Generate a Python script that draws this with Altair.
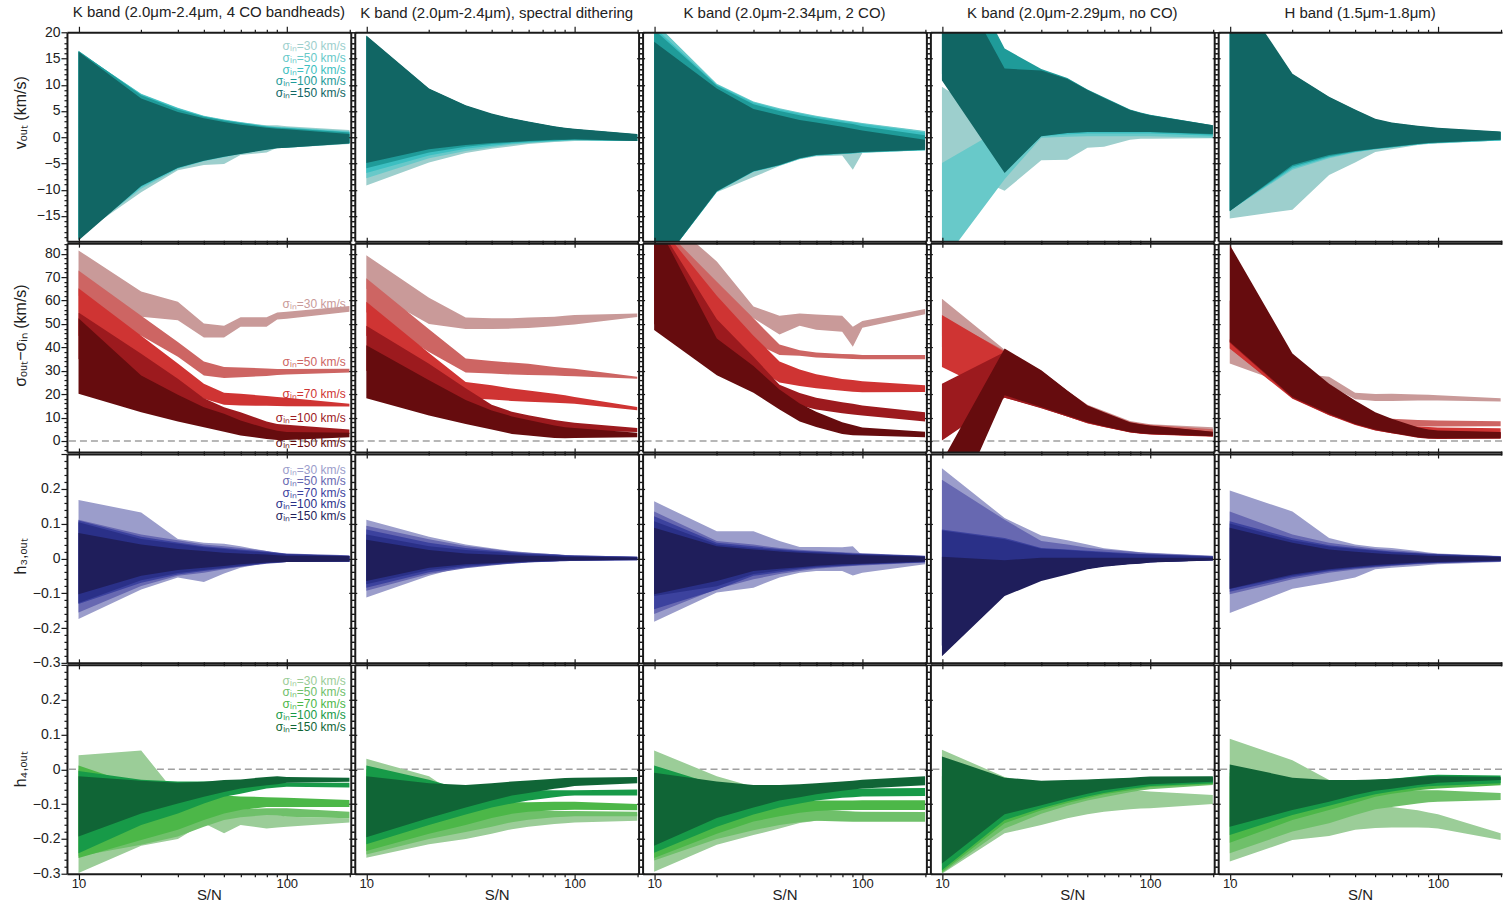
import altair as alt
import pandas as pd

SN = [10, 20, 30, 40, 50, 60, 80, 90, 100, 200]
SIGMA_IN = [30, 50, 70, 100, 150]
PANEL_TITLES = ["K band (2.0μm-2.4μm, 4 CO bandheads)", "K band (2.0μm-2.4μm), spectral dithering",
                "K band (2.0μm-2.34μm, 2 CO)", "K band (2.0μm-2.29μm, no CO)", "H band (1.5μm-1.8μm)"]
ROW_TITLES = ["vₒᵤₜ (km/s)", "σₒᵤₜ−σᵢₙ (km/s)", "h₃,ₒᵤₜ", "h₄,ₒᵤₜ"]
ROW_TITLE_Y = [80, 92, 102, 104]
TEAL = ["#9dcfcd", "#68c9c9", "#3dbfc1", "#1f9b99", "#116664"]
RED = ["#c99a99", "#cd6563", "#cf3433", "#9c1a1e", "#660c0e"]
BLUE = ["#9b9dcb", "#6768b1", "#3c429e", "#2a3088", "#1f1e5b"]
GREEN = ["#9bcd98", "#6fc06a", "#4cb748", "#179a48", "#106536"]
X_TICKS = [10, 20, 30, 40, 50, 60, 70, 80, 90, 100, 200]

# ---------------- row 1: v_out (rows of each block: sigma_in 30, 50, 70, 100, 150)
V_C1_LO = [[-18.8, -10.5, -6.3, -5.3, -5.1, -3.4, -2.9, -2.0, -2.0, -1.3],
           [-19.0, -9.8, -6.0, -4.6, -3.8, -3.2, -2.4, -2.1, -2.0, -1.2],
           [-19.3, -9.5, -5.9, -4.5, -3.7, -3.1, -2.3, -2.0, -1.9, -1.1],
           [-19.5, -9.2, -5.8, -4.4, -3.6, -3.1, -2.3, -2.0, -1.9, -1.1],
           [-19.7, -9.3, -5.8, -4.5, -3.7, -3.2, -2.4, -2.1, -2.0, -1.2]]
V_C1_HI = [[16.0, 8.0, 5.4, 4.0, 3.3, 2.8, 2.3, 2.3, 2.1, 1.4],
           [16.3, 8.3, 5.6, 4.1, 3.4, 2.9, 2.2, 2.0, 1.9, 1.2],
           [16.4, 8.2, 5.5, 4.0, 3.3, 2.8, 2.1, 1.9, 1.8, 1.0],
           [16.5, 8.0, 5.3, 3.9, 3.2, 2.7, 2.0, 1.8, 1.7, 0.9],
           [16.3, 7.4, 4.8, 3.6, 2.9, 2.4, 1.8, 1.6, 1.5, 0.6]]
V_C2_LO = [[-9.2, -4.8, -3.0, -2.2, -1.7, -1.3, -0.9, -0.8, -0.7, -0.7],
           [-7.8, -4.0, -2.6, -1.9, -1.4, -1.1, -0.8, -0.7, -0.6, -0.7],
           [-6.8, -3.5, -2.2, -1.6, -1.2, -1.0, -0.7, -0.6, -0.5, -0.7],
           [-5.9, -2.9, -1.8, -1.3, -1.0, -0.8, -0.6, -0.5, -0.5, -0.7],
           [-4.9, -2.3, -1.5, -1.1, -0.9, -0.7, -0.5, -0.5, -0.4, -0.7]]
V_C2_HI = [[19.0, 9.0, 5.9, 4.3, 3.4, 2.8, 2.0, 1.7, 1.5, 0.5],
           [19.1, 9.1, 5.9, 4.4, 3.5, 2.9, 2.0, 1.7, 1.5, 0.5],
           [19.2, 9.2, 6.0, 4.4, 3.5, 2.9, 2.0, 1.7, 1.5, 0.5],
           [19.3, 9.2, 6.0, 4.4, 3.5, 2.9, 2.0, 1.7, 1.5, 0.5],
           [19.4, 9.3, 6.1, 4.5, 3.6, 3.0, 2.1, 1.8, 1.6, 0.6]]
V_C3_LO = [[-26, -10.5, -7.6, -5.5, -4.2, -3.6, -3.5, -6.2, -3.0, -2.5],
           [-26, -10.4, -6.6, -5.4, -4.1, -3.5, -3.2, -3.1, -2.9, -2.5],
           [-26, -10.4, -6.6, -5.4, -4.1, -3.5, -3.2, -3.1, -2.9, -2.5],
           [-26, -10.3, -6.5, -5.3, -4.0, -3.4, -3.1, -3.0, -2.8, -2.4],
           [-26, -10.3, -6.5, -5.3, -4.0, -3.4, -3.1, -3.0, -2.8, -2.4]]
V_C3_HI = [[22, 10.0, 6.7, 5.4, 4.6, 4.0, 3.2, 2.9, 2.6, 1.1],
           [22, 10.2, 6.8, 5.5, 4.7, 4.1, 3.3, 3.0, 2.7, 1.2],
           [21, 10.0, 6.6, 5.3, 4.5, 3.9, 3.1, 2.8, 2.5, 0.9],
           [20.5, 9.8, 6.3, 5.0, 4.2, 3.6, 2.8, 2.5, 2.1, 0.4],
           [18.2, 9.3, 5.4, 4.2, 3.3, 2.8, 2.0, 1.6, 1.3, -0.5]]
V_C4_LO = [[-4.9, -10.2, -4.4, -4.3, -2.0, -1.8, -0.5, -0.3, -0.3, -0.2],
           [-24, -8, -0.1, 0.1, 0.2, 0.2, 0.2, 0.2, 0.2, -0.1],
           [11, -6, 0.2, 0.5, 0.7, 0.7, 0.7, 0.7, 0.7, 0.3],
           [12, -6.5, 0.3, 0.8, 1.0, 1.0, 1.0, 1.0, 1.0, 0.5],
           [10.8, -6.8, 0.2, 0.8, 1.0, 1.0, 1.0, 1.0, 1.0, 0.6]]
V_C4_HI = [[9.6, 2.0, 0.5, 0.8, 1.0, 1.0, 1.0, 1.0, 1.0, 0.5],
           [-4.9, 2.0, 0.8, 0.9, 1.0, 1.0, 1.0, 1.0, 1.0, 0.6],
           [30, 14, 12.8, 11.2, 9.0, 7.5, 5.2, 4.6, 4.2, 2.2],
           [40, 16.9, 13.0, 11.3, 9.1, 7.6, 5.3, 4.7, 4.3, 2.3],
           [35, 13.1, 12.7, 11.1, 9.0, 7.5, 5.2, 4.6, 4.2, 2.3]]
V_C5_LO = [[-15.5, -13.8, -7.2, -4.8, -2.8, -2.3, -1.5, -1.3, -1.2, -0.6],
           [-14.0, -6.2, -4.0, -2.9, -2.3, -2.0, -1.4, -1.2, -1.1, -0.6],
           [-14.0, -5.9, -3.8, -2.8, -2.3, -1.9, -1.4, -1.2, -1.1, -0.6],
           [-14.0, -5.6, -3.6, -2.7, -2.2, -1.9, -1.3, -1.1, -1.0, -0.5],
           [-14.1, -5.3, -3.4, -2.6, -2.2, -1.8, -1.3, -1.1, -1.0, -0.5]]
V_C5_HI = [[27, 11.5, 7.3, 5.0, 3.2, 2.5, 1.9, 1.7, 1.5, 0.9],
           [28, 11.7, 7.4, 5.0, 3.2, 2.6, 2.0, 1.8, 1.6, 1.0],
           [28, 11.8, 7.5, 5.1, 3.3, 2.6, 2.0, 1.8, 1.6, 1.0],
           [29, 12.0, 7.6, 5.2, 3.4, 2.7, 2.1, 1.9, 1.7, 1.0],
           [30, 12.1, 7.7, 5.3, 3.5, 2.8, 2.2, 2.0, 1.8, 1.1]]

# ---------------- row 2: sigma_out - sigma_in
S_C1_LO = [[62, 53.1, 51.6, 44.2, 44.2, 48.8, 48.8, 51.9, 52.2, 55.2],
           [55, 45, 36, 28.0, 26.9, 27.2, 27.8, 28.2, 28.4, 29.2],
           [45, 32, 25, 18, 15.5, 15.2, 15.0, 14.9, 14.8, 14.7],
           [35, 22, 15, 10, 7.5, 5.5, 3.5, 3.2, 3.0, 3.0],
           [20.2, 12.3, 8.3, 5.9, 4.0, 2.3, 0.9, 0.4, 0.4, 1.6]]
S_C1_HI = [[81.4, 63.8, 59.5, 50.2, 49.2, 52.8, 52.8, 54.9, 55.2, 57.6],
           [72.8, 53.5, 42.3, 34.0, 31.6, 31.4, 31.0, 30.8, 30.8, 30.9],
           [65.2, 45.0, 33.1, 24.5, 20.6, 20.2, 19.2, 18.8, 18.5, 15.9],
           [54.9, 37.3, 26.6, 18.3, 14.4, 12.3, 8.3, 7.3, 6.9, 4.9],
           [52.4, 28.0, 19.7, 14.4, 11.6, 8.7, 5.4, 4.4, 3.8, 3.5]]
S_C2_LO = [[65, 50, 47.8, 47.8, 48.0, 48.3, 49.0, 49.4, 49.8, 53.0],
           [55, 38, 29.2, 28.8, 28.4, 28.2, 28.0, 27.8, 27.6, 26.6],
           [45, 28, 18.3, 17.7, 17.1, 16.8, 16.3, 16.1, 15.9, 13.1],
           [30, 18, 10, 6, 5, 4.8, 4.6, 4.5, 4.4, 3.8],
           [18.3, 10.9, 7.3, 4.9, 3.0, 2.3, 1.3, 1.2, 1.3, 1.6]]
S_C2_HI = [[79.3, 61.2, 52.7, 52.4, 52.4, 52.7, 53.1, 53.5, 53.8, 54.5],
           [69.5, 47.7, 35.2, 34.2, 33.5, 33.0, 31.6, 31.2, 30.9, 27.4],
           [59.5, 37.6, 25.2, 23.8, 22.4, 21.6, 20.2, 19.5, 18.8, 14.5],
           [49.2, 33, 22.5, 15.5, 12.5, 11, 9, 8.3, 7.8, 5.5],
           [40.9, 25.9, 17.5, 13.0, 10.5, 9.0, 6.6, 5.9, 5.5, 3.5]]
S_C3_LO = [[80, 62, 52.4, 45.5, 49.2, 47.5, 46.7, 40.2, 48.4, 54.1],
           [75, 50, 42, 36.7, 36.4, 35.7, 35.2, 35.0, 34.9, 34.9],
           [60, 42, 32, 25, 23.5, 22.5, 21.5, 21.0, 20.8, 20.9],
           [50, 32, 22, 17.5, 15.2, 13.5, 11.8, 11.3, 10.9, 8.3],
           [47.4, 28.1, 20.6, 13.5, 8.3, 6.0, 3.0, 2.5, 2.3, 1.6]]
S_C3_HI = [[100, 76.7, 57.4, 53.5, 54.5, 54.0, 53.5, 48.8, 51.2, 56.4],
           [95, 68, 52.4, 41.2, 38.8, 37.8, 37.2, 37.0, 36.7, 36.7],
           [95, 62, 45, 34, 30.5, 28.5, 26.5, 26.0, 25.5, 23.8],
           [95, 52, 36, 24, 20.5, 18.5, 16.5, 15.9, 15.2, 12.3],
           [95, 43.8, 32, 22, 16, 12.5, 8.0, 6.8, 5.8, 4.0]]
S_C4_LO = [[45, 18.8, 14.0, 10.5, 7.5, 6.0, 3.8, 3.4, 3.1, 2.5],
           [40, 19, 14.3, 10.7, 7.8, 6.2, 3.8, 3.3, 3.0, 2.2],
           [31.6, 18.5, 14.2, 10.5, 7.6, 6.0, 3.6, 3.1, 2.8, 1.8],
           [0.2, 18.5, 14, 10.5, 7.7, 6.1, 3.7, 3.2, 2.9, 2.0],
           [-41, 19.5, 14.5, 10.9, 8.0, 6.3, 3.8, 3.3, 3.0, 2.0]]
S_C4_HI = [[60.7, 39, 30, 21.5, 15.5, 12.8, 8.5, 7.8, 7.2, 5.9],
           [53, 38.5, 29.8, 21.3, 15.2, 12.5, 8.2, 7.5, 6.9, 5.0],
           [53.8, 38, 29.8, 21.2, 15.0, 12.1, 7.8, 7.1, 6.5, 3.9],
           [24.5, 38, 29.5, 21, 14.8, 12.0, 7.7, 7.0, 6.4, 3.8],
           [-8.7, 39.5, 30.2, 21.6, 15.2, 12.3, 8.0, 7.2, 6.6, 4.0]]
S_C5_LO = [[33.1, 23.5, 23.8, 17.8, 17.1, 17.1, 17.3, 17.3, 17.3, 16.9],
           [39.5, 18.5, 11, 7.5, 6.5, 6.3, 6.2, 6.2, 6.2, 6.3],
           [39.5, 18.0, 11.0, 6.8, 4.5, 3.3, 2.0, 1.8, 1.7, 1.5],
           [42, 18.3, 11.2, 7.0, 4.6, 3.3, 1.4, 1.0, 0.9, 1.0],
           [42.4, 18.8, 11.6, 7.3, 4.9, 3.5, 1.6, 1.2, 1.2, 1.2]]
S_C5_HI = [[39.5, 29, 27.4, 20.6, 20.1, 20.2, 19.9, 19.7, 19.5, 18.3],
           [43, 30, 20, 13, 10.5, 9.5, 9.0, 8.9, 8.8, 8.4],
           [43.5, 25, 16, 11, 8.5, 7.5, 6.2, 6.0, 5.8, 5.4],
           [60, 34, 22, 15, 10.5, 8, 5.5, 4.7, 4.3, 3.6],
           [83.8, 37.4, 24.5, 17.3, 12.3, 9.5, 5.9, 4.9, 4.5, 3.8]]

# ---------------- row 3: h3
H3_C1_LO = [[-0.174, -0.089, -0.055, -0.068, -0.043, -0.027, -0.012, -0.010, -0.008, -0.010],
            [-0.155, -0.079, -0.050, -0.041, -0.031, -0.024, -0.015, -0.013, -0.010, -0.010],
            [-0.131, -0.070, -0.046, -0.036, -0.029, -0.023, -0.014, -0.012, -0.010, -0.009],
            [-0.128, -0.063, -0.042, -0.033, -0.027, -0.021, -0.013, -0.011, -0.010, -0.009],
            [-0.103, -0.050, -0.033, -0.027, -0.022, -0.017, -0.012, -0.011, -0.010, -0.009]]
H3_C1_HI = [[0.168, 0.132, 0.056, 0.045, 0.042, 0.035, 0.021, 0.015, 0.011, 0.007],
            [0.111, 0.069, 0.052, 0.040, 0.035, 0.030, 0.021, 0.017, 0.014, 0.009],
            [0.109, 0.062, 0.046, 0.035, 0.030, 0.026, 0.019, 0.016, 0.013, 0.007],
            [0.104, 0.056, 0.042, 0.032, 0.027, 0.023, 0.017, 0.014, 0.012, 0.007],
            [0.073, 0.040, 0.027, 0.021, 0.016, 0.014, 0.011, 0.009, 0.008, 0.007]]
H3_C2_LO = [[-0.112, -0.050, -0.022, -0.016, -0.012, -0.010, -0.008, -0.007, -0.006, -0.005],
            [-0.093, -0.045, -0.028, -0.020, -0.015, -0.012, -0.009, -0.008, -0.007, -0.005],
            [-0.084, -0.040, -0.025, -0.018, -0.014, -0.011, -0.008, -0.007, -0.007, -0.005],
            [-0.074, -0.033, -0.021, -0.016, -0.012, -0.010, -0.008, -0.007, -0.006, -0.004],
            [-0.065, -0.027, -0.017, -0.014, -0.011, -0.009, -0.007, -0.006, -0.006, -0.004]]
H3_C2_HI = [[0.111, 0.062, 0.040, 0.029, 0.021, 0.017, 0.012, 0.010, 0.009, 0.005],
            [0.094, 0.055, 0.036, 0.027, 0.020, 0.016, 0.012, 0.010, 0.009, 0.005],
            [0.083, 0.045, 0.030, 0.023, 0.018, 0.014, 0.011, 0.009, 0.008, 0.005],
            [0.069, 0.035, 0.024, 0.019, 0.015, 0.012, 0.009, 0.008, 0.007, 0.004],
            [0.054, 0.024, 0.014, 0.011, 0.009, 0.008, 0.006, 0.005, 0.005, 0.003]]
H3_C3_LO = [[-0.182, -0.098, -0.084, -0.055, -0.041, -0.036, -0.036, -0.049, -0.041, -0.017],
            [-0.160, -0.088, -0.060, -0.045, -0.036, -0.030, -0.024, -0.022, -0.020, -0.012],
            [-0.146, -0.090, -0.050, -0.040, -0.032, -0.027, -0.022, -0.020, -0.018, -0.011],
            [-0.108, -0.080, -0.045, -0.035, -0.028, -0.024, -0.020, -0.018, -0.017, -0.010],
            [-0.103, -0.065, -0.036, -0.030, -0.025, -0.021, -0.017, -0.016, -0.015, -0.009]]
H3_C3_HI = [[0.164, 0.078, 0.078, 0.050, 0.033, 0.033, 0.032, 0.035, 0.008, 0.007],
            [0.135, 0.050, 0.040, 0.030, 0.025, 0.022, 0.018, 0.016, 0.015, 0.008],
            [0.121, 0.045, 0.035, 0.027, 0.022, 0.020, 0.016, 0.014, 0.013, 0.007],
            [0.107, 0.040, 0.030, 0.024, 0.020, 0.018, 0.014, 0.013, 0.012, 0.006],
            [0.088, 0.035, 0.026, 0.020, 0.016, 0.014, 0.011, 0.010, 0.009, 0.005]]
H3_C4_LO = [[-0.250, -0.100, -0.060, -0.040, -0.030, -0.022, -0.015, -0.013, -0.011, -0.005],
            [-0.250, -0.100, -0.060, -0.040, -0.030, -0.022, -0.015, -0.013, -0.011, -0.005],
            [-0.250, -0.100, -0.060, -0.040, -0.030, -0.022, -0.015, -0.013, -0.011, -0.005],
            [-0.250, -0.100, -0.060, -0.040, -0.030, -0.022, -0.015, -0.013, -0.011, -0.005],
            [-0.281, -0.108, -0.065, -0.046, -0.031, -0.024, -0.017, -0.015, -0.012, -0.006]]
H3_C4_HI = [[0.259, 0.116, 0.066, 0.052, 0.040, 0.029, 0.021, 0.018, 0.016, 0.008],
            [0.226, 0.111, 0.050, 0.040, 0.031, 0.026, 0.020, 0.017, 0.015, 0.007],
            [0.083, 0.059, 0.030, 0.026, 0.022, 0.019, 0.015, 0.013, 0.012, 0.006],
            [0.080, 0.055, 0.028, 0.024, 0.020, 0.017, 0.013, 0.012, 0.011, 0.005],
            [0.005, -0.005, 0.002, 0.002, 0.002, 0.002, 0.002, 0.002, 0.002, 0.002]]
H3_C5_LO = [[-0.157, -0.087, -0.069, -0.055, -0.031, -0.027, -0.022, -0.019, -0.017, -0.010],
            [-0.103, -0.060, -0.041, -0.032, -0.026, -0.022, -0.017, -0.015, -0.014, -0.009],
            [-0.096, -0.054, -0.037, -0.029, -0.024, -0.020, -0.015, -0.014, -0.013, -0.008],
            [-0.088, -0.050, -0.034, -0.027, -0.022, -0.019, -0.014, -0.013, -0.012, -0.008],
            [-0.087, -0.046, -0.031, -0.024, -0.019, -0.016, -0.012, -0.011, -0.010, -0.006]]
H3_C5_HI = [[0.195, 0.135, 0.059, 0.040, 0.033, 0.030, 0.021, 0.017, 0.014, 0.007],
            [0.135, 0.069, 0.045, 0.035, 0.028, 0.024, 0.018, 0.015, 0.013, 0.006],
            [0.107, 0.058, 0.038, 0.030, 0.024, 0.020, 0.015, 0.013, 0.012, 0.006],
            [0.100, 0.052, 0.034, 0.027, 0.022, 0.018, 0.014, 0.012, 0.011, 0.005],
            [0.088, 0.045, 0.026, 0.019, 0.015, 0.012, 0.009, 0.008, 0.007, 0.004]]

# ---------------- row 4: h4
H4_C1_LO = [[-0.298, -0.220, -0.200, -0.155, -0.184, -0.160, -0.170, -0.167, -0.165, -0.153],
            [-0.250, -0.217, -0.193, -0.165, -0.146, -0.138, -0.131, -0.132, -0.136, -0.141],
            [-0.255, -0.203, -0.174, -0.146, -0.127, -0.117, -0.108, -0.108, -0.108, -0.108],
            [-0.241, -0.160, -0.127, -0.098, -0.079, -0.070, -0.055, -0.052, -0.050, -0.052],
            [-0.193, -0.127, -0.098, -0.079, -0.065, -0.055, -0.046, -0.043, -0.039, -0.036]]
H4_C1_HI = [[0.040, 0.054, -0.077, -0.120, -0.125, -0.128, -0.130, -0.130, -0.136, -0.141],
            [0.000, -0.100, -0.110, -0.115, -0.115, -0.115, -0.112, -0.112, -0.112, -0.122],
            [0.011, -0.050, -0.060, -0.070, -0.075, -0.078, -0.080, -0.081, -0.082, -0.088],
            [-0.005, -0.030, -0.035, -0.035, -0.035, -0.035, -0.035, -0.036, -0.038, -0.039],
            [-0.020, -0.033, -0.039, -0.036, -0.031, -0.029, -0.022, -0.020, -0.022, -0.024]]
H4_C2_LO = [[-0.254, -0.215, -0.200, -0.185, -0.172, -0.165, -0.157, -0.155, -0.153, -0.148],
            [-0.245, -0.200, -0.180, -0.165, -0.152, -0.145, -0.138, -0.136, -0.135, -0.135],
            [-0.235, -0.185, -0.160, -0.140, -0.128, -0.122, -0.118, -0.117, -0.116, -0.118],
            [-0.215, -0.160, -0.130, -0.110, -0.098, -0.090, -0.080, -0.077, -0.075, -0.075],
            [-0.195, -0.140, -0.110, -0.090, -0.075, -0.068, -0.056, -0.052, -0.048, -0.040]]
H4_C2_HI = [[0.030, -0.020, -0.090, -0.100, -0.110, -0.115, -0.120, -0.122, -0.125, -0.128],
            [-0.010, -0.080, -0.110, -0.115, -0.118, -0.120, -0.120, -0.120, -0.120, -0.122],
            [0.000, -0.050, -0.100, -0.095, -0.095, -0.095, -0.093, -0.093, -0.093, -0.100],
            [0.011, -0.030, -0.060, -0.060, -0.060, -0.060, -0.060, -0.060, -0.060, -0.058],
            [-0.020, -0.040, -0.045, -0.040, -0.035, -0.032, -0.027, -0.025, -0.024, -0.022]]
H4_C3_LO = [[-0.294, -0.217, -0.189, -0.170, -0.154, -0.148, -0.140, -0.138, -0.136, -0.146],
            [-0.262, -0.200, -0.175, -0.160, -0.152, -0.148, -0.150, -0.151, -0.151, -0.151],
            [-0.255, -0.185, -0.150, -0.135, -0.125, -0.120, -0.118, -0.117, -0.117, -0.117],
            [-0.240, -0.165, -0.130, -0.110, -0.098, -0.090, -0.082, -0.080, -0.078, -0.077],
            [-0.220, -0.140, -0.110, -0.090, -0.080, -0.072, -0.062, -0.058, -0.055, -0.046]]
H4_C3_HI = [[0.054, -0.020, -0.050, -0.090, -0.110, -0.115, -0.120, -0.122, -0.125, -0.128],
            [0.000, -0.070, -0.100, -0.110, -0.115, -0.118, -0.120, -0.121, -0.122, -0.123],
            [0.005, -0.060, -0.085, -0.090, -0.090, -0.090, -0.090, -0.090, -0.089, -0.089],
            [0.011, -0.045, -0.060, -0.060, -0.060, -0.060, -0.058, -0.056, -0.055, -0.054],
            [-0.010, -0.035, -0.045, -0.045, -0.043, -0.040, -0.035, -0.033, -0.030, -0.020]]
H4_C4_LO = [[-0.300, -0.184, -0.160, -0.141, -0.129, -0.122, -0.115, -0.113, -0.112, -0.100],
            [-0.298, -0.170, -0.128, -0.105, -0.090, -0.080, -0.066, -0.061, -0.057, -0.045],
            [-0.295, -0.155, -0.118, -0.097, -0.083, -0.072, -0.060, -0.055, -0.051, -0.042],
            [-0.290, -0.146, -0.112, -0.092, -0.078, -0.068, -0.056, -0.052, -0.048, -0.040],
            [-0.271, -0.129, -0.103, -0.084, -0.070, -0.060, -0.050, -0.046, -0.043, -0.036]]
H4_C4_HI = [[0.056, -0.022, -0.045, -0.050, -0.055, -0.058, -0.060, -0.062, -0.064, -0.074],
            [-0.030, -0.040, -0.040, -0.037, -0.035, -0.033, -0.030, -0.028, -0.027, -0.026],
            [-0.020, -0.035, -0.038, -0.035, -0.033, -0.031, -0.028, -0.026, -0.025, -0.024],
            [0.000, -0.030, -0.035, -0.033, -0.031, -0.029, -0.026, -0.024, -0.023, -0.022],
            [0.037, -0.024, -0.033, -0.031, -0.029, -0.027, -0.024, -0.022, -0.021, -0.020]]
H4_C5_LO = [[-0.265, -0.203, -0.192, -0.174, -0.169, -0.167, -0.167, -0.168, -0.170, -0.203],
            [-0.241, -0.179, -0.155, -0.131, -0.115, -0.108, -0.098, -0.095, -0.093, -0.088],
            [-0.211, -0.146, -0.117, -0.096, -0.079, -0.070, -0.060, -0.057, -0.055, -0.046],
            [-0.189, -0.131, -0.105, -0.085, -0.072, -0.064, -0.052, -0.049, -0.047, -0.040],
            [-0.165, -0.117, -0.093, -0.074, -0.062, -0.056, -0.045, -0.042, -0.039, -0.031]]
H4_C5_HI = [[0.088, 0.026, -0.031, -0.060, -0.100, -0.108, -0.118, -0.124, -0.129, -0.184],
            [-0.020, -0.060, -0.065, -0.060, -0.060, -0.060, -0.060, -0.060, -0.060, -0.068],
            [-0.010, -0.040, -0.045, -0.042, -0.038, -0.035, -0.030, -0.028, -0.026, -0.025],
            [0.000, -0.030, -0.035, -0.033, -0.030, -0.027, -0.020, -0.017, -0.016, -0.018],
            [0.014, -0.024, -0.031, -0.031, -0.029, -0.027, -0.022, -0.020, -0.020, -0.022]]

# legend label positions (S/N, value) in first column
LEGEND_SN = 192
LEG_V_Y = [17.3, 15.1, 12.9, 10.7, 8.5]
LEG_S_Y = [58.4, 33.9, 20.2, 9.9, -0.9]
LEG_H_Y = [0.254, 0.221, 0.188, 0.155, 0.122]

H_TICKS = [0.0 if abs(round(-0.3 + 0.02 * i, 2)) < 1e-9 else round(-0.3 + 0.02 * i, 2) for i in range(31)]
ROWS = [
    dict(lo=[V_C1_LO, V_C2_LO, V_C3_LO, V_C4_LO, V_C5_LO], hi=[V_C1_HI, V_C2_HI, V_C3_HI, V_C4_HI, V_C5_HI],
         colors=TEAL, domain=[-19.8, 20], ticks=list(range(-20, 21)), major="datum.value % 5 == 0",
         show="datum.value % 5 == 0 && datum.value > -20", fmt="d", zero=False, leg=LEG_V_Y),
    dict(lo=[S_C1_LO, S_C2_LO, S_C3_LO, S_C4_LO, S_C5_LO], hi=[S_C1_HI, S_C2_HI, S_C3_HI, S_C4_HI, S_C5_HI],
         colors=RED, domain=[-4.7, 84.5], ticks=list(range(-4, 86, 2)), major="datum.value % 10 == 0",
         show="datum.value % 10 == 0 && datum.value >= 0", fmt="d", zero=True, leg=LEG_S_Y),
    dict(lo=[H3_C1_LO, H3_C2_LO, H3_C3_LO, H3_C4_LO, H3_C5_LO], hi=[H3_C1_HI, H3_C2_HI, H3_C3_HI, H3_C4_HI, H3_C5_HI],
         colors=BLUE, domain=[-0.3, 0.3], ticks=H_TICKS,
         major="abs(datum.value*10 - round(datum.value*10)) < 0.001",
         show="abs(datum.value*10 - round(datum.value*10)) < 0.001 && datum.value < 0.25", fmt=".1~f", zero=False, leg=LEG_H_Y),
    dict(lo=[H4_C1_LO, H4_C2_LO, H4_C3_LO, H4_C4_LO, H4_C5_LO], hi=[H4_C1_HI, H4_C2_HI, H4_C3_HI, H4_C4_HI, H4_C5_HI],
         colors=GREEN, domain=[-0.3, 0.3], ticks=H_TICKS,
         major="abs(datum.value*10 - round(datum.value*10)) < 0.001",
         show="abs(datum.value*10 - round(datum.value*10)) < 0.001 && datum.value < 0.25", fmt=".1~f", zero=True, leg=LEG_H_Y),
]

W, H = 284, 209
INK = "#1a1a1a"
X_MAJOR = "datum.value == 10 || datum.value == 100"


def y_axis(row, r, orient, labels):
    kw = dict(orient=orient, values=row["ticks"], format=row["fmt"], labels=labels,
              labelExpr="(" + row["show"] + ") ? datum.label : ''",
              tickSize={"condition": {"test": row["major"], "value": 6}, "value": 3},
              tickColor=INK, tickWidth=1.2, domain=True, domainColor=INK, domainWidth=2,
              grid=False, zindex=1, labelOverlap=False, labelFontSize=14, labelColor="#222",
              labelPadding=1)
    if labels:
        kw.update(title=ROW_TITLES[r], titleFontSize=16, titleFontWeight="normal", titleColor="#222",
                  titleX=-38, titleY=ROW_TITLE_Y[r])
    else:
        kw.update(title=None)
    return alt.Axis(**kw)


def x_axis(orient, labels):
    kw = dict(orient=orient, values=X_TICKS, format="d", labels=labels,
              labelExpr="(" + X_MAJOR + ") ? datum.label : ''",
              tickSize={"condition": {"test": X_MAJOR, "value": 6}, "value": 3},
              tickColor=INK, tickWidth=1.2, domain=True, domainColor=INK, domainWidth=2,
              grid=False, zindex=1, labelOverlap=False, labelFontSize=13, labelColor="#222",
              labelPadding=-2, labelFlush=False)
    if labels:
        kw.update(title="S/N", titleFontSize=15, titleFontWeight="normal", titleColor="#222", titlePadding=-3)
    else:
        kw.update(title=None)
    return alt.Axis(**kw)


def panel(r, c):
    row = ROWS[r]
    xs = alt.Scale(type="log", domain=[8.8, 203], nice=False)
    ys = alt.Scale(domain=row["domain"], nice=False, zero=False)
    layers = []
    if row["zero"]:
        layers.append(alt.Chart(pd.DataFrame({"val": [0.0]})).mark_rule(
            color="#a0a0a0", strokeDash=[7, 4], strokeWidth=1.5).encode(
            y=alt.Y("val:Q", scale=ys, axis=None)))
    for k, s in enumerate(SIGMA_IN):
        df = pd.DataFrame({"sn": SN, "lo": row["lo"][c][k], "hi": row["hi"][c][k]})
        layers.append(alt.Chart(df).mark_area(color=row["colors"][k], clip=True, opacity=1).encode(
            x=alt.X("sn:Q", scale=xs, axis=None),
            y=alt.Y("lo:Q", scale=ys, axis=None),
            y2="hi:Q"))
    if c == 0:
        ldf = pd.DataFrame({"sn": [LEGEND_SN] * 5, "val": row["leg"],
                            "txt": [f"σᵢₙ={s} km/s" for s in SIGMA_IN], "k": list(range(5))})
        for k in range(5):
            layers.append(alt.Chart(ldf.iloc[[k]]).mark_text(
                align="right", baseline="middle", fontSize=12, color=row["colors"][k]).encode(
                x=alt.X("sn:Q", scale=xs, axis=None),
                y=alt.Y("val:Q", scale=ys, axis=None),
                text="txt:N"))
    dummy = pd.DataFrame({"sn": [10.0], "val": [0.0]})
    layers.append(alt.Chart(dummy).mark_point(opacity=0).encode(
        x=alt.X("sn:Q", scale=xs, axis=x_axis("bottom", r == 3)),
        y=alt.Y("val:Q", scale=ys, axis=y_axis(row, r, "left", c == 0))))
    layers.append(alt.Chart(dummy).mark_point(opacity=0).encode(
        x=alt.X("sn:Q", scale=xs, axis=x_axis("top", False)),
        y=alt.Y("val:Q", scale=ys, axis=(y_axis(row, r, "right", False) if c < 4 else None))))
    ch = alt.layer(*layers).resolve_axis(x="independent", y="independent").properties(width=W, height=H)
    if r == 0:
        ch = ch.properties(title=alt.TitleParams(PANEL_TITLES[c], fontSize=15, fontWeight="normal",
                                                 color="#222", offset=5, anchor="middle"))
    return ch


panels = [panel(r, c) for r in range(4) for c in range(5)]
chart = alt.concat(*panels, columns=5, spacing={"row": 2, "column": 4}, bounds="flush").properties(
    padding={"left": 12, "top": 5, "right": 0, "bottom": 0}
).configure(font="Liberation Sans").configure_view(strokeWidth=0)

chart.save("out.html", embed_options={"renderer": "svg", "actions": False})
